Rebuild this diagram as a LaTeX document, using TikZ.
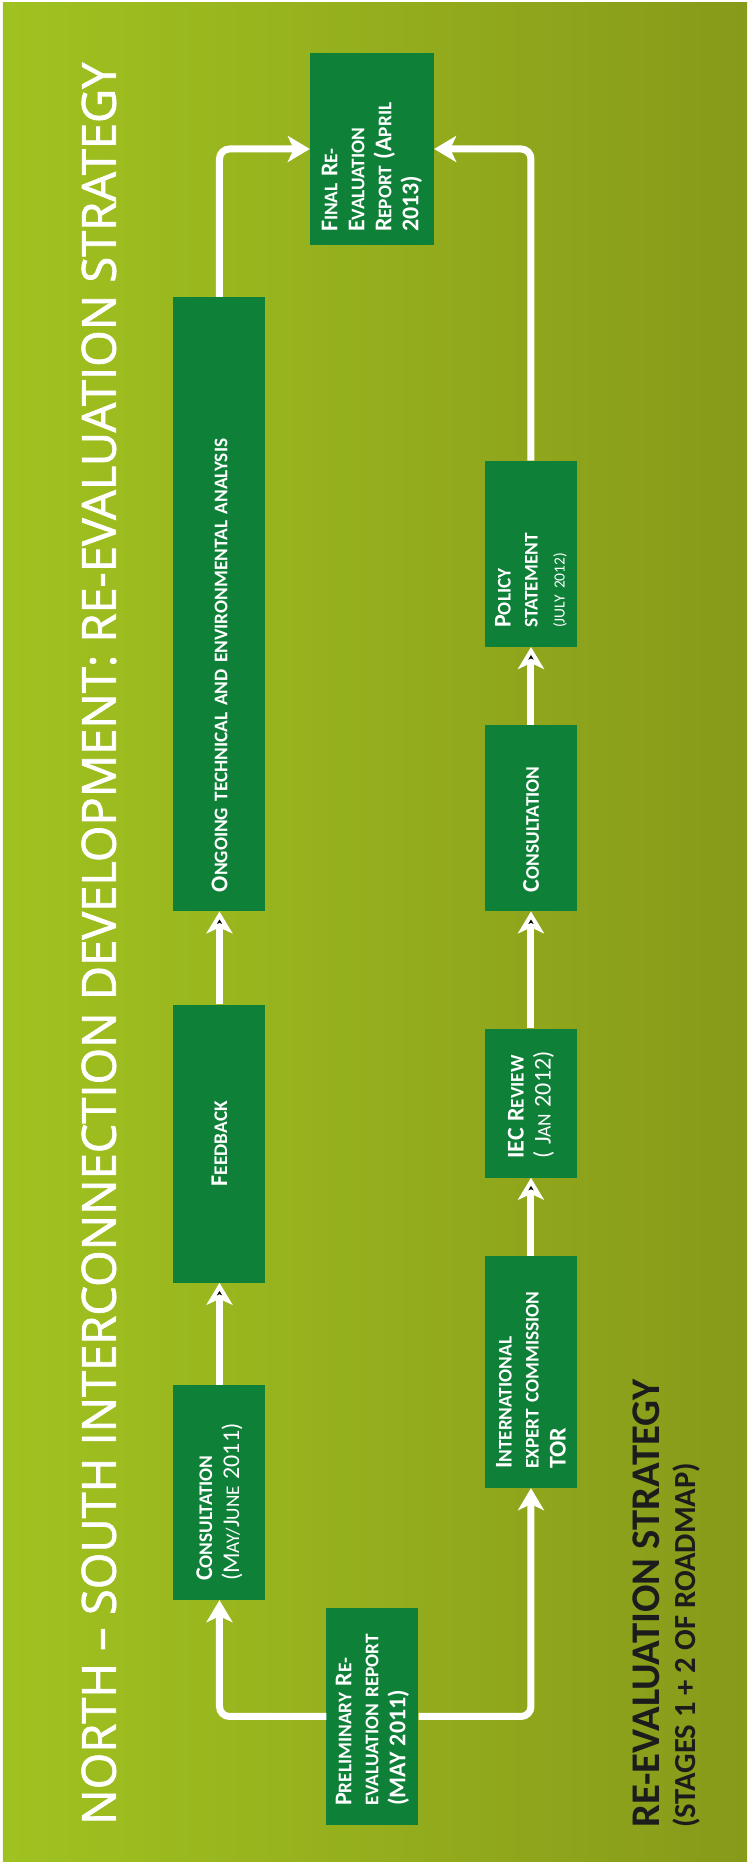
\documentclass[tikz,border=0pt]{standalone}
\usepackage{fontspec}
\setmainfont{Carlito}
\newfontfamily\titlefont{Open Sans}[FakeBold=1.6]
\usetikzlibrary{positioning,arrows.meta}

\definecolor{bgleft}{RGB}{160,194,32}
\definecolor{bgright}{RGB}{136,154,26}
\definecolor{boxgreen}{RGB}{14,128,56}
\definecolor{darktext}{RGB}{28,28,28}

\newcommand{\bigc}[1]{{\fontsize{24}{27}\selectfont #1}}
\newcommand{\datec}[1]{{\mdseries #1}}

\begin{document}
\begin{tikzpicture}[x=1pt, y=1pt,
                    box/.style={fill=boxgreen, text=white,
                                inner xsep=19pt, inner ysep=0pt,
                                minimum height=92pt, align=left,
                                font=\fontsize{19.3}{27}\selectfont\bfseries},
                    flow/.style={draw=white, line width=7pt, rounded corners=10pt,
                                 -{Stealth[length=22pt, width=26pt, inset=6pt]}},
                    plain text/.style={anchor=west, inner sep=0pt}]

  \useasboundingbox (-747,0) rectangle (0,1865);
  \fill[white] (-747,0) rectangle (0,1865);
  \shade[left color=bgleft, right color=bgright] (-744,3) rectangle (0,1862);

  % read sideways: the whole chart is laid out on its side
  \begin{scope}[rotate=90, transform shape]

  \node[plain text, text=white] (title) at (40,648)
    {\resizebox{1762pt}{!}{\titlefont NORTH – SOUTH INTERCONNECTION DEVELOPMENT: RE-EVALUATION STRATEGY}};

  \node[box, text width=179pt] (prelim) at (148.5,374.5)
    {\bigc{P}RELIMINARY \bigc{R}E-\\EVALUATION REPORT\\\bigc{(MAY 2011)}};

  \node[box, text width=177pt] (cons1) at (372.5,527.5)
    {\bigc{C}ONSULTATION\\\datec{\bigc{(M}AY/\bigc{J}UNE \bigc{2011)}}};
  \node[box, text width=240pt, align=center] (feedback) [right=102pt of cons1] {\bigc{F}EEDBACK};
  \node[box, text width=576pt] (ongoing) [right=93pt of feedback]
    {\bigc{O}NGOING TECHNICAL AND ENVIRONMENTAL ANALYSIS};

  \node[box, text width=194pt] (intl) at (493,216)
    {\bigc{I}NTERNATIONAL\\EXPERT COMMISSION\\\bigc{TOR}};
  \node[box, text width=111pt] (iec) [right=78pt of intl]
    {\bigc{IEC R}EVIEW\\\datec{\bigc{( J}AN \bigc{2012)}}};
  \node[box, text width=148pt] (cons2) [right=117pt of iec] {\bigc{C}ONSULTATION};
  \node[box, text width=148pt] (policy) [right=78pt of cons2]
    {\bigc{P}OLICY\\STATEMENT\\{\mdseries\fontsize{15.5}{17}\selectfont(JULY 2012)}};

  \node[box, text width=166pt, inner xsep=13pt, minimum height=124pt] (final) at (1716,375)
    {\bigc{F}INAL \bigc{R}E-\\\bigc{E}VALUATION\\\bigc{R}EPORT \bigc{(A}PRIL\\\bigc{2013)}};

  \node[plain text, text=darktext, font=\bfseries] (strat) at (37,100.5)
    {\resizebox{448pt}{!}{RE-EVALUATION STRATEGY}};
  \node[plain text, text=darktext, font=\bfseries] (stages) at (37,61)
    {\resizebox{365pt}{!}{(STAGES 1 + 2 OF ROADMAP)}};

  \draw[flow] (prelim.north) |- (cons1.west);
  \draw[flow] (prelim.south) |- (intl.west);
  \path[flow]
    (cons1)    edge (feedback)
    (feedback) edge (ongoing)
    (intl)     edge (iec)
    (iec)      edge (cons2)
    (cons2)    edge (policy);
  \draw[flow] (ongoing.east) -| (final.north);
  \draw[flow] (policy.east) -| (final.south);

  \end{scope}
\end{tikzpicture}
\end{document}
